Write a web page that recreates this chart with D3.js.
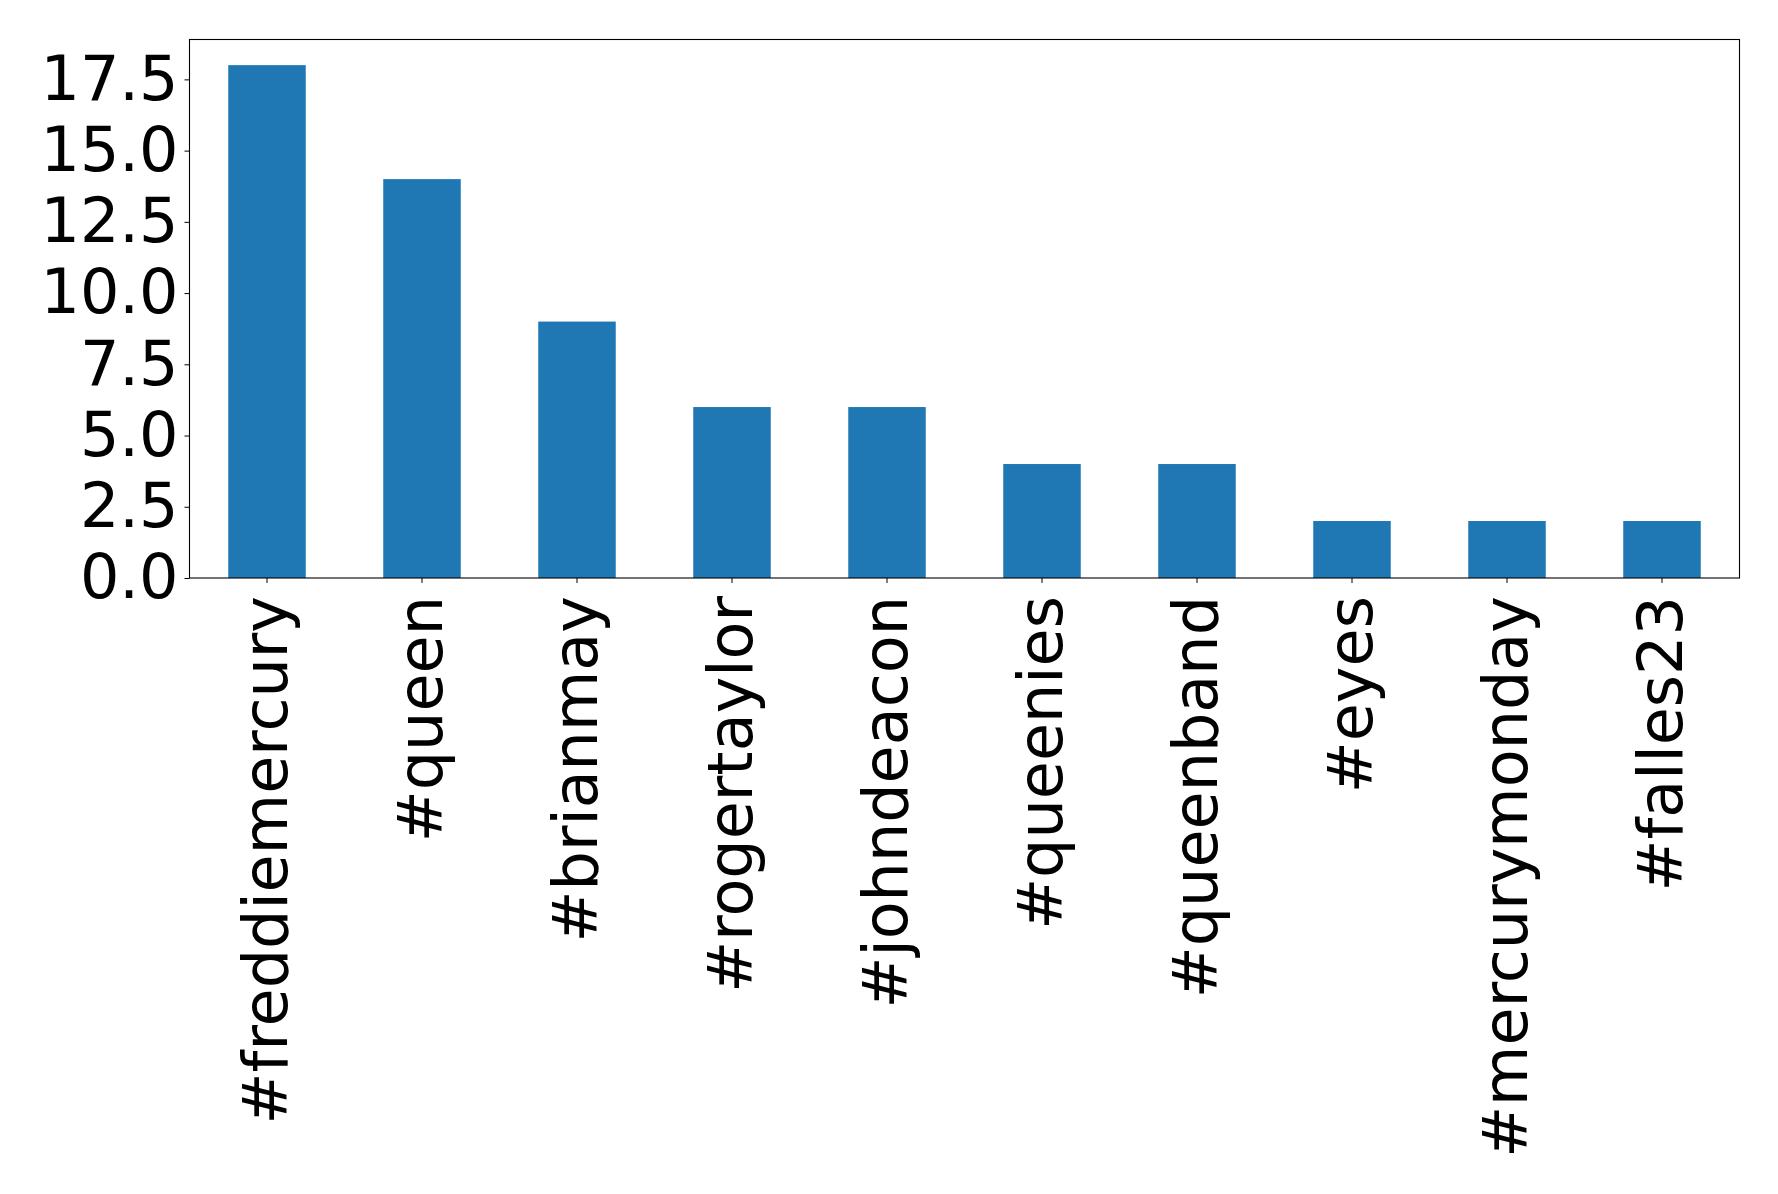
<!DOCTYPE html>
<html><head><meta charset="utf-8">
<script src="https://cdn.jsdelivr.net/npm/d3@7"></script>
<style>body{margin:0;background:#fff}svg{display:block}</style>
</head><body><div id="chart"></div>
<script>
const categories = ["#freddiemercury","#queen","#brianmay","#rogertaylor","#johndeacon","#queenies","#queenband","#eyes","#mercurymonday","#falles23"];
const values = [18,14,9,6,6,4,4,2,2,2];
const yTicks = [0,2.5,5,7.5,10,12.5,15,17.5];

const W = 1778, H = 1194;
const m = {left:189.5, right:W-1739.5, top:39.5, bottom:H-578};
const svg = d3.select("#chart").append("svg").attr("width",W).attr("height",H);
const x = d3.scaleBand().domain(categories).range([m.left, W-m.right]).paddingInner(0.5).paddingOuter(0.25);
const y = d3.scaleLinear().domain([0, d3.max(values)*1.05]).range([H-m.bottom, m.top]);
const font = "DejaVu Sans";
const fs = 62;

svg.append("g").selectAll("rect").data(values).join("rect")
  .attr("x",(d,i)=>x(categories[i])).attr("width",x.bandwidth())
  .attr("y",d=>y(d)).attr("height",d=>y(0)-y(d)).attr("fill","#1f77b4");

const ya = svg.append("g").attr("transform",`translate(${m.left},0)`)
  .call(d3.axisLeft(y).tickValues(yTicks).tickFormat(d3.format(".1f")).tickSize(5).tickPadding(6));
ya.select(".domain").remove();
ya.selectAll("text").attr("font-family",font).attr("font-size",fs).attr("fill","#000");
ya.selectAll("line").attr("stroke","#000");

const xa = svg.append("g").attr("transform",`translate(0,${H-m.bottom})`)
  .call(d3.axisBottom(x).tickSize(5).tickPadding(5));
xa.select(".domain").remove();
xa.selectAll("line").attr("stroke","#000");
xa.selectAll("text").attr("font-family",font).attr("font-size",fs).attr("fill","#000")
  .attr("transform","rotate(-90)").attr("text-anchor","end").attr("dy","0.33em")
  .attr("x",-18).attr("y",0);

svg.append("rect").attr("x",m.left).attr("y",m.top).attr("width",W-m.left-m.right).attr("height",H-m.top-m.bottom)
  .attr("fill","none").attr("stroke","#000").attr("stroke-width",1.1);
</script></body></html>
